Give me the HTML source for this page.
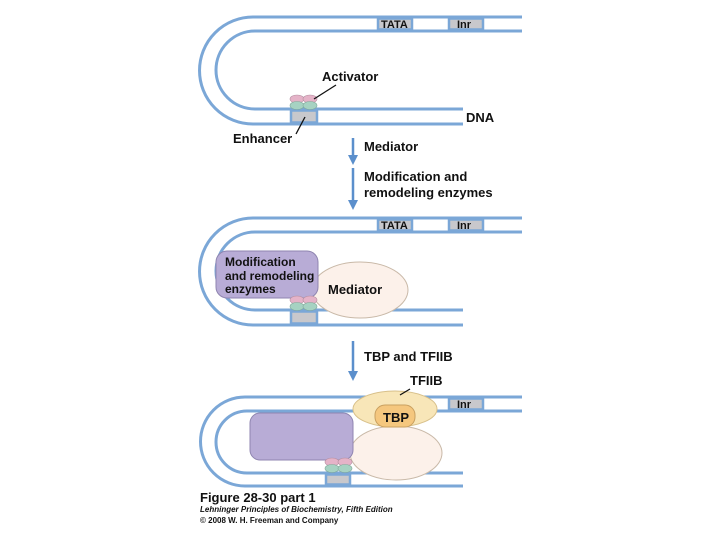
<!DOCTYPE html>
<html><head><style>body{margin:0;background:#fff}svg{display:block}text{font-family:"Liberation Sans",sans-serif;font-weight:bold;fill:#111}</style></head><body>
<svg width="720" height="540" viewBox="0 0 720 540" xmlns="http://www.w3.org/2000/svg">
<defs>
<g id="dnaA" fill="none" stroke="#7ba7d7" stroke-width="3">
<path d="M522 17 H253 A53.5 53.5 0 0 0 253 124 H463"/>
<path d="M522 31 H255 A39 39 0 0 0 255 109 H463"/>
</g>
<marker id="ah" markerWidth="10" markerHeight="10" refX="5" refY="5" orient="auto" markerUnits="userSpaceOnUse"><path d="M0 0 L10 5 L0 10 Z" fill="#5b8fcc"/></marker>
</defs>
<!-- Panel 1 -->
<use href="#dnaA"/>
<rect x="378" y="18.5" width="34" height="11" fill="#c8c8cc" stroke="#7ba7d7" stroke-width="2.5"/>
<rect x="449" y="18.5" width="34" height="11" fill="#c8c8cc" stroke="#7ba7d7" stroke-width="2.5"/>
<rect x="291" y="110.5" width="26" height="12" fill="#c8c8cc" stroke="#7ba7d7" stroke-width="2.5"/>
<ellipse cx="297" cy="99" rx="7" ry="4" fill="#e5b3c8" stroke="#b38ea0" stroke-width=".6"/>
<ellipse cx="310" cy="99" rx="7" ry="4" fill="#e5b3c8" stroke="#b38ea0" stroke-width=".6"/>
<ellipse cx="297" cy="105.5" rx="7" ry="4" fill="#a6d2c2" stroke="#7fa898" stroke-width=".6"/>
<ellipse cx="310" cy="105.5" rx="7" ry="4" fill="#a6d2c2" stroke="#7fa898" stroke-width=".6"/>
<text x="381" y="28" font-size="11">TATA</text><text x="457" y="28" font-size="11">Inr</text>
<text x="322" y="81" font-size="13">Activator</text>
<line x1="336" y1="85" x2="314" y2="99" stroke="#111" stroke-width="1.3"/>
<text x="466" y="122" font-size="13">DNA</text>
<text x="233" y="143" font-size="13">Enhancer</text>
<line x1="296" y1="134" x2="305" y2="117" stroke="#111" stroke-width="1.3"/>
<line x1="353" y1="138" x2="353" y2="160" stroke="#5b8fcc" stroke-width="2.5" marker-end="url(#ah)"/>
<line x1="353" y1="168" x2="353" y2="205" stroke="#5b8fcc" stroke-width="2.5" marker-end="url(#ah)"/>
<text x="364" y="151" font-size="13">Mediator</text>
<text x="364" y="181" font-size="13">Modification and</text>
<text x="364" y="197" font-size="13">remodeling enzymes</text>
<!-- Panel 2 -->
<g transform="translate(0,201)"><use href="#dnaA"/>
<rect x="378" y="18.5" width="34" height="11" fill="#c8c8cc" stroke="#7ba7d7" stroke-width="2.5"/>
<rect x="449" y="18.5" width="34" height="11" fill="#c8c8cc" stroke="#7ba7d7" stroke-width="2.5"/>
<rect x="291" y="110.5" width="26" height="12" fill="#c8c8cc" stroke="#7ba7d7" stroke-width="2.5"/>
<text x="381" y="28" font-size="11">TATA</text><text x="457" y="28" font-size="11">Inr</text>
</g>
<ellipse cx="360" cy="290" rx="48" ry="28" fill="#fcf1ea" stroke="#c9b9a8" stroke-width="1"/>
<rect x="216" y="251" width="102" height="47" rx="11" fill="#b8acd6" stroke="#8f85b0" stroke-width="1"/>
<text font-size="12"><tspan x="225" y="266">Modification</tspan><tspan x="225" y="280">and remodeling</tspan><tspan x="225" y="293">enzymes</tspan></text>
<text x="328" y="294" font-size="13">Mediator</text>
<ellipse cx="297" cy="300" rx="7" ry="4" fill="#e5b3c8" stroke="#b38ea0" stroke-width=".6"/>
<ellipse cx="310" cy="300" rx="7" ry="4" fill="#e5b3c8" stroke="#b38ea0" stroke-width=".6"/>
<ellipse cx="297" cy="306.5" rx="7" ry="4" fill="#a6d2c2" stroke="#7fa898" stroke-width=".6"/>
<ellipse cx="310" cy="306.5" rx="7" ry="4" fill="#a6d2c2" stroke="#7fa898" stroke-width=".6"/>
<line x1="353" y1="341" x2="353" y2="376" stroke="#5b8fcc" stroke-width="2.5" marker-end="url(#ah)"/>
<text x="364" y="361" font-size="13">TBP and TFIIB</text>
<!-- Panel 3 -->
<g fill="none" stroke="#7ba7d7" stroke-width="3">
<path d="M522 397 H245 A44.5 44.5 0 0 0 245 486 H463"/>
<path d="M522 411 H247 A31 31 0 0 0 247 473 H463"/>
</g>
<rect x="449" y="398.5" width="34" height="11" fill="#c8c8cc" stroke="#7ba7d7" stroke-width="2.5"/>
<text x="457" y="408" font-size="11">Inr</text>
<rect x="326" y="474.5" width="24" height="10" fill="#c8c8cc" stroke="#7ba7d7" stroke-width="2.5"/>
<ellipse cx="396" cy="453" rx="46" ry="27" fill="#fcf1ea" stroke="#c9b9a8" stroke-width="1"/>
<rect x="250" y="413" width="103" height="47" rx="10" fill="#b8acd6" stroke="#8f85b0" stroke-width="1"/>
<ellipse cx="395" cy="409" rx="42" ry="18" fill="#f8e6b8" stroke="#d8c08a" stroke-width="1"/>
<rect x="375" y="405" width="40" height="22" rx="10" fill="#f5c77e" stroke="#c9a060" stroke-width="1"/>
<text x="383" y="422" font-size="13">TBP</text>
<text x="410" y="385" font-size="13">TFIIB</text>
<line x1="410" y1="389" x2="400" y2="395" stroke="#111" stroke-width="1.3"/>
<ellipse cx="332" cy="462" rx="7" ry="4" fill="#e5b3c8" stroke="#b38ea0" stroke-width=".6"/>
<ellipse cx="345" cy="462" rx="7" ry="4" fill="#e5b3c8" stroke="#b38ea0" stroke-width=".6"/>
<ellipse cx="332" cy="468.5" rx="7" ry="4" fill="#a6d2c2" stroke="#7fa898" stroke-width=".6"/>
<ellipse cx="345" cy="468.5" rx="7" ry="4" fill="#a6d2c2" stroke="#7fa898" stroke-width=".6"/>
<!-- caption -->
<text x="200" y="502" font-size="13">Figure 28-30 part 1</text>
<text x="200" y="512" font-size="8" font-style="italic">Lehninger Principles of Biochemistry, Fifth Edition</text>
<text x="200" y="523" font-size="8" font-weight="normal" fill="#333">© 2008 W. H. Freeman and Company</text>
</svg>
</body></html>
